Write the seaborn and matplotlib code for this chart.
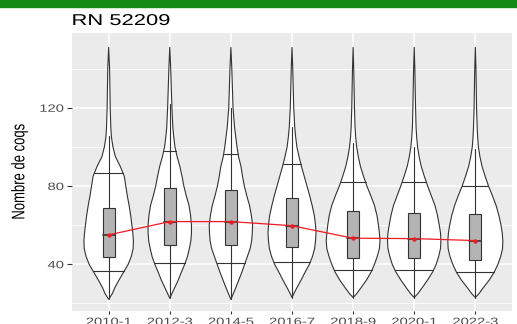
import numpy as np
import matplotlib
matplotlib.use("Agg")
import matplotlib.pyplot as plt
import seaborn as sns
from matplotlib.patheffects import AbstractPathEffect
from matplotlib.transforms import Affine2D
from matplotlib.patches import Rectangle, Polygon
from matplotlib.ticker import FixedLocator

# ---- données : nombre de coqs par période de comptage ----
annees = ["2010-1", "2012-3", "2014-5", "2016-7", "2018-9", "2020-1", "2022-3"]
minimum = [22.1, 22.6, 22.0, 23.0, 23.0, 23.0, 23.0]
maximum = [151.0, 151.0, 151.0, 151.0, 151.0, 151.0, 151.0]
q_bas = [36.3, 40.5, 40.5, 41.0, 37.0, 37.0, 36.0]
q1 = [43.9, 49.9, 49.9, 48.7, 43.1, 43.1, 42.2]
mediane = [55.0, 61.8, 61.8, 59.7, 53.3, 53.1, 52.1]
q3 = [68.6, 78.8, 78.0, 73.7, 67.2, 66.4, 65.5]
q_haut = [86.5, 98.0, 96.2, 91.0, 82.0, 82.0, 80.0]
moustache_haute = [105.5, 121.9, 119.7, 110.3, 102.0, 100.0, 99.0]

# densité (demi-largeur du violon) aux niveaux ci-dessous
niveaux = [25, 28, 32, 36, 40, 44, 48, 52, 56, 60, 65, 70, 75, 80, 85,
           90, 95, 100, 105, 110, 120, 130, 140]
densite_2010_1 = [.06, .10, .17, .245, .32, .37, .40, .405, .395, .38, .36, .335,
                  .305, .28, .255, .19, .11, .07, .045, .035, .025, .02, .015]
densite_2012_3 = [.035, .08, .14, .19, .245, .29, .32, .345, .355, .355, .34, .315,
                  .27, .23, .20, .165, .12, .085, .065, .05, .035, .025, .015]
densite_2014_5 = [.04, .08, .13, .18, .225, .27, .315, .34, .35, .355, .335, .305,
                  .26, .22, .19, .165, .125, .10, .08, .06, .035, .025, .015]
densite_2016_7 = [.03, .08, .15, .215, .285, .335, .37, .385, .393, .385, .365, .33,
                  .29, .245, .20, .155, .115, .08, .06, .045, .028, .02, .012]
densite_2018_9 = [.06, .13, .22, .295, .35, .395, .43, .44, .43, .415, .39, .35,
                  .29, .225, .17, .12, .085, .058, .042, .032, .022, .016, .01]
densite_2020_1 = [.06, .13, .22, .30, .36, .40, .43, .437, .43, .41, .38, .34,
                  .28, .22, .165, .115, .08, .055, .04, .03, .022, .016, .01]
densite_2022_3 = [.06, .13, .23, .31, .37, .415, .445, .45, .44, .42, .385, .34,
                  .28, .215, .16, .11, .075, .05, .038, .03, .02, .015, .01]
densites = [densite_2010_1, densite_2012_3, densite_2014_5, densite_2016_7,
            densite_2018_9, densite_2020_1, densite_2022_3]


class Elargi(AbstractPathEffect):
    """Étire horizontalement le tracé d'un texte autour d'un point d'ancrage."""

    def __init__(self, sx=1.4, ancre="center"):
        super().__init__()
        self.sx = sx
        self.ancre = ancre

    def draw_path(self, renderer, gc, tpath, affine, rgbFace=None):
        ext = tpath.get_extents(affine)
        x0 = {"left": ext.x0, "center": 0.5 * (ext.x0 + ext.x1), "right": ext.x1}[self.ancre]
        t = affine + Affine2D().translate(-x0, 0).scale(self.sx, 1).translate(x0, 0)
        renderer.draw_path(gc, tpath, t, rgbFace)


sns.set_theme(style="darkgrid")
plt.rcParams["font.family"] = ["Liberation Sans", "DejaVu Sans"]

W, H = 517, 324
fig = plt.figure(figsize=(W / 100, H / 100), dpi=100, facecolor="white")
ax = fig.add_axes([72 / W, 1 - 311 / H, 440 / W, 278 / H])
ax.set_facecolor("#EBEBEB")

# bandeau vert
fig.patches.append(Rectangle((0, 1 - 6.5 / H), 1, 6.5 / H, transform=fig.transFigure,
                             color="#158A15", zorder=10))

trait = "#333333"
pos = np.arange(len(annees))

for i, dens in enumerate(densites):
    y = np.array([minimum[i]] + niveaux + [maximum[i]])
    hw = np.array([0.0] + dens + [0.0])
    pts = np.concatenate([np.column_stack([i - hw, y]),
                          np.column_stack([i + hw, y])[::-1]])
    ax.add_patch(Polygon(pts, closed=True, fc="white", ec=trait, lw=0.8, zorder=2))
    # lignes de quantiles du violon
    for q in (q_bas[i], q_haut[i]):
        d = np.interp(q, y, hw)
        ax.plot([i - d, i + d], [q, q], color=trait, lw=0.8, zorder=3)
    # moustaches
    ax.plot([i, i], [minimum[i], q1[i]], color=trait, lw=0.8, zorder=3)
    ax.plot([i, i], [q3[i], moustache_haute[i]], color=trait, lw=0.8, zorder=3)
    # boîte
    ax.add_patch(Rectangle((i - 0.1, q1[i]), 0.2, q3[i] - q1[i], fc="#B4B4B4",
                           ec=trait, lw=0.8, zorder=4))
    ax.plot([i - 0.1, i + 0.1], [mediane[i], mediane[i]], color=trait, lw=1.2, zorder=5)

sns.lineplot(x=pos, y=mediane, ax=ax, color="#EE1C25", lw=0.9, marker="o",
             markersize=3.2, markeredgewidth=0, zorder=6)

ax.set_xlim(-0.6, 6.6)
ax.set_ylim(16.1, 158.2)
ax.set_xticks(pos)
ax.set_xticklabels(annees)
ax.set_yticks([40, 80, 120])
ax.set_yticklabels(["40", "80", "120"])
ax.yaxis.set_minor_locator(FixedLocator([20, 60, 100, 140]))
ax.grid(which="major", color="white", lw=1.1)
ax.grid(which="minor", axis="y", color="white", lw=0.55)
ax.grid(which="minor", axis="x", visible=False)
for s in ax.spines.values():
    s.set_visible(False)
ax.tick_params(axis="y", which="major", length=3.3, width=0.8, color=trait,
               labelcolor="#4D4D4D", labelsize=7.6, pad=2.7, left=True)
ax.tick_params(axis="x", which="major", length=2.4, width=0.8, color=trait,
               labelcolor="#4D4D4D", labelsize=7.6, pad=1.9, bottom=True)
ax.tick_params(which="minor", length=0)
ax.set_xlabel("")
ax.set_ylabel("")

for lab in ax.get_yticklabels():
    lab.set_path_effects([Elargi(1.4, "right")])
for lab in ax.get_xticklabels():
    lab.set_path_effects([Elargi(1.4, "center")])

fig.text(20 / W, 1 - 172 / H, "Nombre de coqs", rotation=90, ha="center", va="center",
         fontsize=9.4, color="black", path_effects=[Elargi(1.4, "center")])
fig.text(72 / W, 1 - 25 / H, "RN 52209", ha="left", va="baseline",
         fontsize=11.3, color="black", path_effects=[Elargi(1.4, "left")])

fig.savefig("out.png", dpi=100, facecolor="white")
